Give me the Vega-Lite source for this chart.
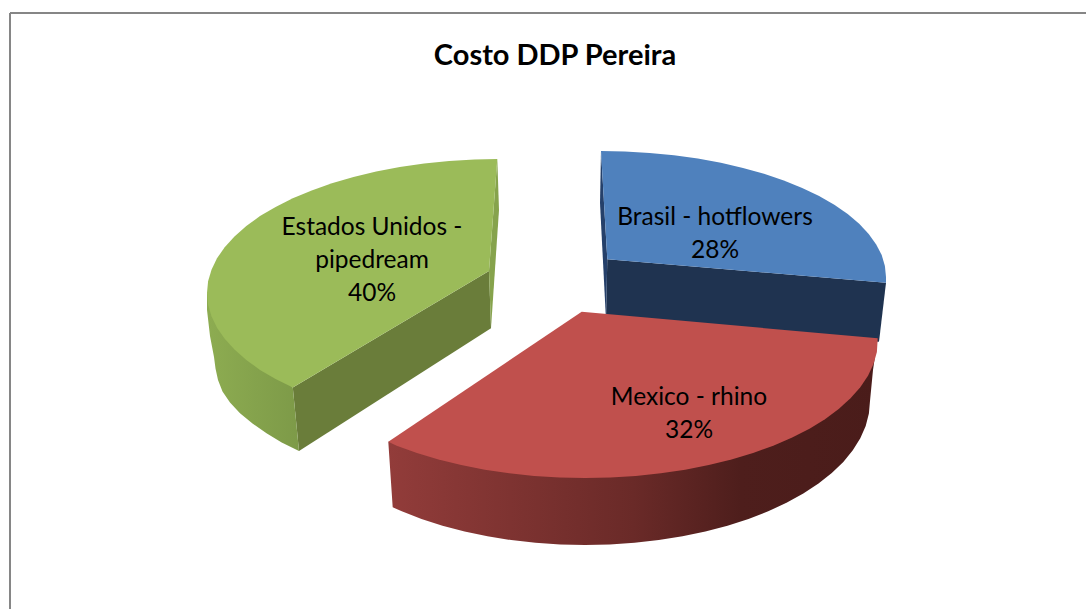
{
  "$schema": "https://vega.github.io/schema/vega-lite/v6.json",
  "width": 1086,
  "height": 609,
  "padding": 0,
  "autosize": "none",
  "background": "white",
  "view": {"stroke": null},
  "title": {"text": "Costo DDP Pereira", "anchor": "middle", "dx": 12, "offset": -71, "font": "Lato", "fontSize": 29, "fontWeight": "bold", "color": "#000000"},
  "datasets": {
    "frame": [
      {"x": 10, "y": 13, "x2": 10, "y2": 609},
      {"x": 10, "y": 13, "x2": 1086, "y2": 13}
    ],
    "labels": [
      {"slice": "Brasil", "name": "Brasil - hotflowers", "value": 28, "x": 715, "y": 218},
      {"slice": "Mexico", "name": "Mexico - rhino", "value": 32, "x": 689, "y": 398},
      {"slice": "Estados Unidos", "name": "Estados Unidos -\npipedream", "value": 40, "x": 372, "y": 227.5}
    ],
    "faces": [
      {"slice": "Estados Unidos", "face": "cut", "seq": 1, "x": 292.8, "y": 387.5},
      {"slice": "Estados Unidos", "face": "cut", "seq": 2, "x": 489, "y": 271},
      {"slice": "Estados Unidos", "face": "cut", "seq": 3, "x": 491, "y": 328.3},
      {"slice": "Estados Unidos", "face": "cut", "seq": 4, "x": 299, "y": 451},

      {"slice": "Estados Unidos", "face": "edge", "seq": 1, "x": 497.3, "y": 159},
      {"slice": "Estados Unidos", "face": "edge", "seq": 2, "x": 499, "y": 210},
      {"slice": "Estados Unidos", "face": "edge", "seq": 3, "x": 491, "y": 328.3},
      {"slice": "Estados Unidos", "face": "edge", "seq": 4, "x": 489, "y": 271},

      {"slice": "Brasil", "face": "cut", "seq": 1, "x": 607.3, "y": 259.3},
      {"slice": "Brasil", "face": "cut", "seq": 2, "x": 886, "y": 282.7},
      {"slice": "Brasil", "face": "cut", "seq": 3, "x": 879, "y": 341.7},
      {"slice": "Brasil", "face": "cut", "seq": 4, "x": 606, "y": 320},

      {"slice": "Brasil", "face": "edge", "seq": 1, "x": 601, "y": 151},
      {"slice": "Brasil", "face": "edge", "seq": 2, "x": 600, "y": 203},
      {"slice": "Brasil", "face": "edge", "seq": 3, "x": 606, "y": 320},
      {"slice": "Brasil", "face": "edge", "seq": 4, "x": 607.3, "y": 259.3},

      {"slice": "Estados Unidos", "face": "outer", "seq": 1, "x": 207, "y": 293},
      {"slice": "Estados Unidos", "face": "outer", "seq": 2, "x": 207, "y": 310},
      {"slice": "Estados Unidos", "face": "outer", "seq": 3, "x": 210, "y": 336},
      {"slice": "Estados Unidos", "face": "outer", "seq": 4, "x": 214, "y": 357},
      {"slice": "Estados Unidos", "face": "outer", "seq": 5, "x": 215.5, "y": 368.6},
      {"slice": "Estados Unidos", "face": "outer", "seq": 6, "x": 218, "y": 380.1},
      {"slice": "Estados Unidos", "face": "outer", "seq": 7, "x": 222.5, "y": 391.4},
      {"slice": "Estados Unidos", "face": "outer", "seq": 8, "x": 230, "y": 402.5},
      {"slice": "Estados Unidos", "face": "outer", "seq": 9, "x": 240, "y": 413.2},
      {"slice": "Estados Unidos", "face": "outer", "seq": 10, "x": 252.5, "y": 423.5},
      {"slice": "Estados Unidos", "face": "outer", "seq": 11, "x": 266.5, "y": 433.3},
      {"slice": "Estados Unidos", "face": "outer", "seq": 12, "x": 281.7, "y": 442.5},
      {"slice": "Estados Unidos", "face": "outer", "seq": 13, "x": 299, "y": 451},
      {"slice": "Estados Unidos", "face": "outer", "seq": 14, "x": 292.8, "y": 387.5},

      {"slice": "Mexico", "face": "outer", "seq": 1, "x": 877.7, "y": 338.3},
      {"slice": "Mexico", "face": "outer", "seq": 2, "x": 873, "y": 370},
      {"slice": "Mexico", "face": "outer", "seq": 3, "x": 870, "y": 401},
      {"slice": "Mexico", "face": "outer", "seq": 4, "x": 868.9, "y": 413.6},
      {"slice": "Mexico", "face": "outer", "seq": 5, "x": 865.7, "y": 426},
      {"slice": "Mexico", "face": "outer", "seq": 6, "x": 860.3, "y": 438.3},
      {"slice": "Mexico", "face": "outer", "seq": 7, "x": 852.8, "y": 450.2},
      {"slice": "Mexico", "face": "outer", "seq": 8, "x": 843.3, "y": 461.9},
      {"slice": "Mexico", "face": "outer", "seq": 9, "x": 831.8, "y": 473},
      {"slice": "Mexico", "face": "outer", "seq": 10, "x": 818.5, "y": 483.6},
      {"slice": "Mexico", "face": "outer", "seq": 11, "x": 803.3, "y": 493.6},
      {"slice": "Mexico", "face": "outer", "seq": 12, "x": 786.5, "y": 502.8},
      {"slice": "Mexico", "face": "outer", "seq": 13, "x": 768.2, "y": 511.3},
      {"slice": "Mexico", "face": "outer", "seq": 14, "x": 748.5, "y": 519},
      {"slice": "Mexico", "face": "outer", "seq": 15, "x": 727.5, "y": 525.7},
      {"slice": "Mexico", "face": "outer", "seq": 16, "x": 705.4, "y": 531.5},
      {"slice": "Mexico", "face": "outer", "seq": 17, "x": 682.5, "y": 536.3},
      {"slice": "Mexico", "face": "outer", "seq": 18, "x": 658.8, "y": 540.1},
      {"slice": "Mexico", "face": "outer", "seq": 19, "x": 634.5, "y": 542.8},
      {"slice": "Mexico", "face": "outer", "seq": 20, "x": 609.8, "y": 544.5},
      {"slice": "Mexico", "face": "outer", "seq": 21, "x": 585, "y": 545},
      {"slice": "Mexico", "face": "outer", "seq": 22, "x": 560.2, "y": 544.5},
      {"slice": "Mexico", "face": "outer", "seq": 23, "x": 535.5, "y": 542.8},
      {"slice": "Mexico", "face": "outer", "seq": 24, "x": 511.2, "y": 540.1},
      {"slice": "Mexico", "face": "outer", "seq": 25, "x": 487.5, "y": 536.3},
      {"slice": "Mexico", "face": "outer", "seq": 26, "x": 464.6, "y": 531.5},
      {"slice": "Mexico", "face": "outer", "seq": 27, "x": 442.5, "y": 525.7},
      {"slice": "Mexico", "face": "outer", "seq": 28, "x": 421.5, "y": 519},
      {"slice": "Mexico", "face": "outer", "seq": 29, "x": 401.8, "y": 511.3},
      {"slice": "Mexico", "face": "outer", "seq": 30, "x": 392.7, "y": 507.3},
      {"slice": "Mexico", "face": "outer", "seq": 31, "x": 388.3, "y": 441.7},

      {"slice": "Estados Unidos", "face": "top", "seq": 1, "x": 497.3, "y": 159},
      {"slice": "Estados Unidos", "face": "top", "seq": 2, "x": 474.5, "y": 159.5},
      {"slice": "Estados Unidos", "face": "top", "seq": 3, "x": 449.1, "y": 161},
      {"slice": "Estados Unidos", "face": "top", "seq": 4, "x": 424.2, "y": 163.6},
      {"slice": "Estados Unidos", "face": "top", "seq": 5, "x": 399.8, "y": 167.1},
      {"slice": "Estados Unidos", "face": "top", "seq": 6, "x": 376.2, "y": 171.6},
      {"slice": "Estados Unidos", "face": "top", "seq": 7, "x": 353.5, "y": 177},
      {"slice": "Estados Unidos", "face": "top", "seq": 8, "x": 331.9, "y": 183.2},
      {"slice": "Estados Unidos", "face": "top", "seq": 9, "x": 311.7, "y": 190.4},
      {"slice": "Estados Unidos", "face": "top", "seq": 10, "x": 292.8, "y": 198.2},
      {"slice": "Estados Unidos", "face": "top", "seq": 11, "x": 275.6, "y": 206.9},
      {"slice": "Estados Unidos", "face": "top", "seq": 12, "x": 260, "y": 216.1},
      {"slice": "Estados Unidos", "face": "top", "seq": 13, "x": 246.3, "y": 226},
      {"slice": "Estados Unidos", "face": "top", "seq": 14, "x": 234.5, "y": 236.4},
      {"slice": "Estados Unidos", "face": "top", "seq": 15, "x": 224.7, "y": 247.2},
      {"slice": "Estados Unidos", "face": "top", "seq": 16, "x": 217, "y": 258.3},
      {"slice": "Estados Unidos", "face": "top", "seq": 17, "x": 211.5, "y": 269.7},
      {"slice": "Estados Unidos", "face": "top", "seq": 18, "x": 208.1, "y": 281.3},
      {"slice": "Estados Unidos", "face": "top", "seq": 19, "x": 207, "y": 293},
      {"slice": "Estados Unidos", "face": "top", "seq": 20, "x": 208.1, "y": 304.7},
      {"slice": "Estados Unidos", "face": "top", "seq": 21, "x": 211.5, "y": 316.3},
      {"slice": "Estados Unidos", "face": "top", "seq": 22, "x": 217, "y": 327.7},
      {"slice": "Estados Unidos", "face": "top", "seq": 23, "x": 224.7, "y": 338.8},
      {"slice": "Estados Unidos", "face": "top", "seq": 24, "x": 234.5, "y": 349.6},
      {"slice": "Estados Unidos", "face": "top", "seq": 25, "x": 246.3, "y": 360},
      {"slice": "Estados Unidos", "face": "top", "seq": 26, "x": 260, "y": 369.9},
      {"slice": "Estados Unidos", "face": "top", "seq": 27, "x": 275.6, "y": 379.1},
      {"slice": "Estados Unidos", "face": "top", "seq": 28, "x": 292.8, "y": 387.5},
      {"slice": "Estados Unidos", "face": "top", "seq": 29, "x": 489, "y": 271},

      {"slice": "Brasil", "face": "top", "seq": 1, "x": 601, "y": 151},
      {"slice": "Brasil", "face": "top", "seq": 2, "x": 624.9, "y": 151.5},
      {"slice": "Brasil", "face": "top", "seq": 3, "x": 649.6, "y": 152.9},
      {"slice": "Brasil", "face": "top", "seq": 4, "x": 674, "y": 155.3},
      {"slice": "Brasil", "face": "top", "seq": 5, "x": 697.8, "y": 158.6},
      {"slice": "Brasil", "face": "top", "seq": 6, "x": 720.9, "y": 162.8},
      {"slice": "Brasil", "face": "top", "seq": 7, "x": 743, "y": 167.9},
      {"slice": "Brasil", "face": "top", "seq": 8, "x": 764, "y": 173.8},
      {"slice": "Brasil", "face": "top", "seq": 9, "x": 783.8, "y": 180.5},
      {"slice": "Brasil", "face": "top", "seq": 10, "x": 802.2, "y": 187.9},
      {"slice": "Brasil", "face": "top", "seq": 11, "x": 819.1, "y": 196},
      {"slice": "Brasil", "face": "top", "seq": 12, "x": 834.3, "y": 204.7},
      {"slice": "Brasil", "face": "top", "seq": 13, "x": 847.7, "y": 214},
      {"slice": "Brasil", "face": "top", "seq": 14, "x": 859.2, "y": 223.8},
      {"slice": "Brasil", "face": "top", "seq": 15, "x": 868.7, "y": 233.9},
      {"slice": "Brasil", "face": "top", "seq": 16, "x": 876.2, "y": 244.4},
      {"slice": "Brasil", "face": "top", "seq": 17, "x": 881.7, "y": 255.1},
      {"slice": "Brasil", "face": "top", "seq": 18, "x": 884.9, "y": 266},
      {"slice": "Brasil", "face": "top", "seq": 19, "x": 886, "y": 277},
      {"slice": "Brasil", "face": "top", "seq": 20, "x": 886, "y": 282.7},
      {"slice": "Brasil", "face": "top", "seq": 21, "x": 607.3, "y": 259.3},

      {"slice": "Mexico", "face": "top", "seq": 1, "x": 581.7, "y": 311.7},
      {"slice": "Mexico", "face": "top", "seq": 2, "x": 877.7, "y": 338.3},
      {"slice": "Mexico", "face": "top", "seq": 3, "x": 876.9, "y": 352},
      {"slice": "Mexico", "face": "top", "seq": 4, "x": 873.5, "y": 364},
      {"slice": "Mexico", "face": "top", "seq": 5, "x": 868, "y": 375.7},
      {"slice": "Mexico", "face": "top", "seq": 6, "x": 860.3, "y": 387.2},
      {"slice": "Mexico", "face": "top", "seq": 7, "x": 850.5, "y": 398.3},
      {"slice": "Mexico", "face": "top", "seq": 8, "x": 838.7, "y": 409},
      {"slice": "Mexico", "face": "top", "seq": 9, "x": 825, "y": 419.2},
      {"slice": "Mexico", "face": "top", "seq": 10, "x": 809.5, "y": 428.7},
      {"slice": "Mexico", "face": "top", "seq": 11, "x": 792.2, "y": 437.6},
      {"slice": "Mexico", "face": "top", "seq": 12, "x": 773.3, "y": 445.7},
      {"slice": "Mexico", "face": "top", "seq": 13, "x": 753.1, "y": 453},
      {"slice": "Mexico", "face": "top", "seq": 14, "x": 731.5, "y": 459.5},
      {"slice": "Mexico", "face": "top", "seq": 15, "x": 708.8, "y": 465.1},
      {"slice": "Mexico", "face": "top", "seq": 16, "x": 685.2, "y": 469.7},
      {"slice": "Mexico", "face": "top", "seq": 17, "x": 660.8, "y": 473.3},
      {"slice": "Mexico", "face": "top", "seq": 18, "x": 635.9, "y": 475.9},
      {"slice": "Mexico", "face": "top", "seq": 19, "x": 610.5, "y": 477.5},
      {"slice": "Mexico", "face": "top", "seq": 20, "x": 585, "y": 478},
      {"slice": "Mexico", "face": "top", "seq": 21, "x": 559.5, "y": 477.5},
      {"slice": "Mexico", "face": "top", "seq": 22, "x": 534.1, "y": 475.9},
      {"slice": "Mexico", "face": "top", "seq": 23, "x": 509.2, "y": 473.3},
      {"slice": "Mexico", "face": "top", "seq": 24, "x": 484.8, "y": 469.7},
      {"slice": "Mexico", "face": "top", "seq": 25, "x": 461.2, "y": 465.1},
      {"slice": "Mexico", "face": "top", "seq": 26, "x": 438.5, "y": 459.5},
      {"slice": "Mexico", "face": "top", "seq": 27, "x": 416.9, "y": 453},
      {"slice": "Mexico", "face": "top", "seq": 28, "x": 396.7, "y": 445.7},
      {"slice": "Mexico", "face": "top", "seq": 29, "x": 388.3, "y": 441.7}
    ]
  },
  "resolve": {"scale": {"fill": "independent"}},
  "layer": [
    {
      "data": {"name": "frame"},
      "mark": {"type": "rule", "stroke": "#868686", "strokeWidth": 2},
      "encoding": {
        "x": {"field": "x", "type": "quantitative", "axis": null, "scale": {"domain": [0, 1086], "nice": false, "zero": false}},
        "y": {"field": "y", "type": "quantitative", "axis": null, "scale": {"domain": [0, 609], "reverse": true, "nice": false, "zero": false}},
        "x2": {"field": "x2"},
        "y2": {"field": "y2"}
      }
    },
    {
      "data": {"name": "faces"},
      "transform": [
        {"filter": "datum.face === 'cut' || datum.face === 'edge'"},
        {"calculate": "datum.slice + ' ' + datum.face", "as": "part"}
      ],
      "mark": {"type": "line", "strokeWidth": 0},
      "encoding": {
        "x": {"field": "x", "type": "quantitative"},
        "y": {"field": "y", "type": "quantitative"},
        "order": {"field": "seq", "type": "quantitative"},
        "fill": {
          "field": "part",
          "type": "nominal",
          "legend": null,
          "scale": {
            "domain": ["Estados Unidos cut", "Estados Unidos edge", "Brasil cut", "Brasil edge"],
            "range": ["#6a7d3a", "#86a34c", "#1f3350", "#25406a"]
          }
        }
      }
    },
    {
      "data": {"name": "faces"},
      "transform": [{"filter": "datum.face === 'outer' && datum.slice === 'Estados Unidos'"}],
      "mark": {
        "type": "line",
        "strokeWidth": 0,
        "fill": {"gradient": "linear", "x1": 0, "x2": 1, "y1": 0, "y2": 0, "stops": [{"offset": 0, "color": "#8dac51"}, {"offset": 1, "color": "#7d9a48"}]}
      },
      "encoding": {
        "x": {"field": "x", "type": "quantitative"},
        "y": {"field": "y", "type": "quantitative"},
        "order": {"field": "seq", "type": "quantitative"}
      }
    },
    {
      "data": {"name": "faces"},
      "transform": [{"filter": "datum.face === 'outer' && datum.slice === 'Mexico'"}],
      "mark": {
        "type": "line",
        "strokeWidth": 0,
        "fill": {"gradient": "linear", "x1": 0, "x2": 1, "y1": 0, "y2": 0, "stops": [{"offset": 0, "color": "#923c3a"}, {"offset": 0.5, "color": "#6a2a28"}, {"offset": 0.72, "color": "#4e1e1c"}, {"offset": 1, "color": "#4a1c1a"}]}
      },
      "encoding": {
        "x": {"field": "x", "type": "quantitative"},
        "y": {"field": "y", "type": "quantitative"},
        "order": {"field": "seq", "type": "quantitative"}
      }
    },
    {
      "data": {"name": "faces"},
      "transform": [{"filter": "datum.face === 'top'"}],
      "mark": {"type": "line", "strokeWidth": 0},
      "encoding": {
        "x": {"field": "x", "type": "quantitative"},
        "y": {"field": "y", "type": "quantitative"},
        "order": {"field": "seq", "type": "quantitative"},
        "fill": {
          "field": "slice",
          "type": "nominal",
          "legend": null,
          "scale": {"domain": ["Brasil", "Mexico", "Estados Unidos"], "range": ["#4f81bd", "#c0504d", "#9bbb59"]}
        }
      }
    },
    {
      "data": {"name": "labels"},
      "transform": [{"calculate": "datum.name + '\\n' + datum.value + '%'", "as": "label"}],
      "mark": {"type": "text", "font": "Lato", "fontSize": 24.5, "color": "#000000", "align": "center", "baseline": "middle", "lineBreak": "\n", "lineHeight": 33},
      "encoding": {
        "x": {"field": "x", "type": "quantitative"},
        "y": {"field": "y", "type": "quantitative"},
        "text": {"field": "label"}
      }
    }
  ]
}
